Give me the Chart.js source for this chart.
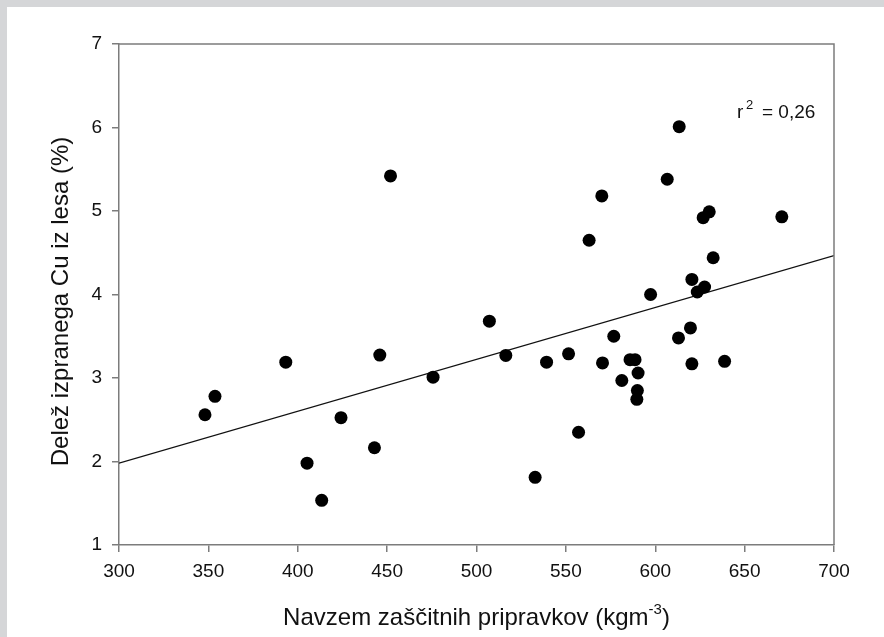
<!DOCTYPE html>
<html lang="sl">
<head>
    <meta charset="UTF-8">
    <title>Delež izpranega Cu iz lesa</title>
    <style type="text/css">
        body { margin: 0; background: #ffffff; }
        .chartBox { width: 884px; height: 637px; }
    </style>
</head>
<body>
    <div class="chartBox">
    <canvas id="myChart" width="884" height="637"></canvas>
    </div>
    <script src="https://cdn.jsdelivr.net/npm/chart.js"></script>
    <script>
    // measured points: retention (kg/m3) vs. share of leached Cu (%)
    const navzem = [348.1, 353.7, 393.3, 405.2, 413.4, 424.2, 442.9, 445.9, 451.9, 475.7,
                    507.2, 516.4, 532.8, 539.2, 551.5, 557.1, 563.0, 570.1, 570.5, 576.8,
                    581.3, 585.9, 588.7, 590.4, 590.0, 589.7, 597.4, 606.7, 613.0, 613.4,
                    619.7, 620.5, 620.5, 623.5, 626.8, 627.6, 630.2, 632.4, 638.8, 670.8];
    const delez  = [2.56, 2.78, 3.19, 1.98, 1.535, 2.525, 2.165, 3.275, 5.42, 3.01,
                    3.68, 3.27, 1.81, 3.19, 3.29, 2.35, 4.65, 5.18, 3.18, 3.50,
                    2.97, 3.22, 3.22, 3.06, 2.85, 2.745, 4.00, 5.38, 3.48, 6.01,
                    3.60, 3.17, 4.18, 4.03, 4.92, 4.09, 4.99, 4.44, 3.20, 4.93];
    // regression line end points
    const fitX = [300, 700];
    const fitY = [1.98, 4.465];
    const xTicks = [300, 700, 50];
    const yTicks = [1, 7, 1];
    const rSquared = '0,26';

    const axisGrey = '#7c7c7c';
    const textCol = '#111111';
    const font = "'Liberation Sans', Arial, sans-serif";

    const frame = {
        id: 'frame',
        beforeDraw(chart) {
            const c = chart.ctx;
            c.save();
            c.fillStyle = '#d5d6d8';
            c.fillRect(0, 0, chart.width, chart.height);
            c.fillStyle = '#ffffff';
            c.fillRect(7, 7, chart.width - 7, chart.height - 7);
            c.restore();
        },
        afterDraw(chart) {
            const c = chart.ctx;
            const a = chart.chartArea;
            c.save();
            // top and right frame
            c.strokeStyle = axisGrey;
            c.lineWidth = 1.5;
            c.beginPath();
            c.moveTo(a.left, a.top);
            c.lineTo(a.right, a.top);
            c.lineTo(a.right, a.bottom);
            c.stroke();

            c.fillStyle = textCol;
            c.textBaseline = 'alphabetic';

            // x title with superscript
            const main = 'Navzem zaščitnih pripravkov (kgm';
            c.font = '24px ' + font;
            const w1 = c.measureText(main).width;
            const w3 = c.measureText(')').width;
            c.font = '15px ' + font;
            const w2 = c.measureText('-3').width;
            let x = (a.left + a.right) / 2 - (w1 + w2 + w3) / 2;
            c.font = '24px ' + font;
            c.textAlign = 'left';
            c.fillText(main, x, 625);
            c.font = '15px ' + font;
            c.fillText('-3', x + w1, 614);
            c.font = '24px ' + font;
            c.fillText(')', x + w1 + w2, 625);

            // y title
            c.save();
            c.translate(68, (a.top + a.bottom) / 2 + 7);
            c.rotate(-Math.PI / 2);
            c.textAlign = 'center';
            c.fillText('Delež izpranega Cu iz lesa (%)', 0, 0);
            c.restore();

            // r squared
            c.textAlign = 'left';
            c.font = '19px ' + font;
            c.fillText('r', 737, 118);
            c.font = '13px ' + font;
            c.fillText('2', 746, 109);
            c.font = '19px ' + font;
            c.fillText('= ' + rSquared, 762, 118);
            c.restore();
        }
    };

    const ctx = document.getElementById('myChart').getContext('2d');
    const myChart = new Chart(ctx, {
        type: 'scatter',
        data: {
            datasets: [{
                label: 'Meritve',
                data: navzem.map((v, i) => ({ x: v, y: delez[i] })),
                backgroundColor: '#000000',
                borderWidth: 0,
                pointRadius: 6.5,
                order: 1
            }, {
                label: 'Regresija',
                type: 'line',
                data: fitX.map((v, i) => ({ x: v, y: fitY[i] })),
                borderColor: '#111111',
                borderWidth: 1.3,
                pointRadius: 0,
                fill: false,
                order: 2
            }]
        },
        options: {
            responsive: false,
            animation: false,
            layout: { padding: { left: 0, top: 44, right: 50, bottom: 0 } },
            plugins: {
                legend: { display: false },
                tooltip: { enabled: false }
            },
            scales: {
                x: {
                    type: 'linear',
                    min: xTicks[0],
                    max: xTicks[1],
                    afterFit: s => { s.height = 92; },
                    border: { color: axisGrey, width: 1.5 },
                    grid: { drawOnChartArea: false, tickLength: 7, color: axisGrey, lineWidth: 1.5 },
                    ticks: { stepSize: xTicks[2], padding: 8, color: textCol, font: { size: 19, family: font } }
                },
                y: {
                    type: 'linear',
                    min: yTicks[0],
                    max: yTicks[1],
                    afterFit: s => { s.width = 119; },
                    border: { color: axisGrey, width: 1.5 },
                    grid: { drawOnChartArea: false, tickLength: 7, color: axisGrey, lineWidth: 1.5 },
                    ticks: { stepSize: yTicks[2], padding: 10, color: textCol, font: { size: 19, family: font } }
                }
            }
        },
        plugins: [frame]
    });
    </script>
</body>
</html>
